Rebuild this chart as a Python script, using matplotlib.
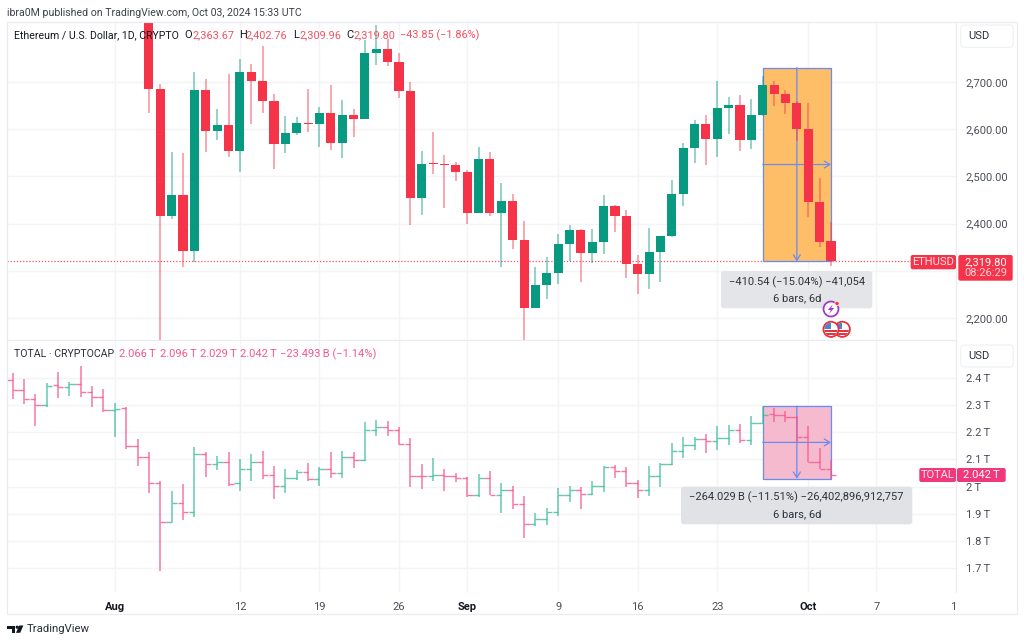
#!/usr/bin/env python3

import numpy as np
import pandas as pd
import matplotlib
matplotlib.use("Agg")
import matplotlib.pyplot as plt
from matplotlib.patches import Rectangle, FancyBboxPatch, Circle, Polygon
from matplotlib.transforms import Bbox

plt.rcParams['font.family'] = ['Roboto', 'DejaVu Sans']

# ETHUSD daily candles, Aug 4 to Oct 3 2024
eth_start = '2024-08-04'
eth_open = [2900, 2685, 2416, 2461, 2341, 2683, 2597, 2609, 2554, 2721, 2701, 2660, 2569, 2592, 2613,
            2610, 2635, 2571, 2629, 2622, 2761, 2769, 2743, 2680, 2455, 2528, 2526, 2524,
            2510, 2423, 2536, 2422, 2447, 2366, 2222, 2270, 2295, 2357, 2386, 2338, 2360, 2437, 2417,
            2314, 2293, 2339, 2374, 2463, 2560, 2610, 2579, 2644, 2651, 2578, 2630, 2693, 2674, 2656,
            2600, 2446, 2363.67]
eth_high = [2925, 2696, 2552, 2550, 2721, 2706, 2643, 2717, 2748, 2738, 2776, 2675, 2628, 2626, 2685,
            2646, 2694, 2661, 2643, 2789, 2821, 2790, 2762, 2699, 2553, 2593, 2545, 2531,
            2514, 2562, 2552, 2485, 2463, 2405, 2308, 2330, 2377, 2397, 2388, 2389, 2461, 2439, 2428,
            2333, 2391, 2374, 2492, 2570, 2619, 2630, 2701, 2668, 2672, 2663, 2713, 2703, 2682, 2660,
            2656, 2497, 2402.76]
eth_low = [2634, 2115, 2410, 2309, 2319, 2552, 2576, 2541, 2510, 2611, 2634, 2516, 2550, 2588, 2594,
           2563, 2556, 2538, 2584, 2621, 2736, 2734, 2667, 2397, 2419, 2505, 2432, 2491,
           2399, 2423, 2416, 2307, 2347, 2150, 2222, 2240, 2272, 2321, 2276, 2316, 2336, 2382, 2285,
           2251, 2261, 2276, 2372, 2437, 2528, 2524, 2540, 2590, 2554, 2557, 2628, 2650, 2633, 2575,
           2413, 2351, 2309.96]
eth_close = [2685, 2416, 2461, 2341, 2683, 2597, 2609, 2554, 2721, 2701, 2660, 2569, 2592, 2613, 2610,
             2635, 2571, 2629, 2622, 2761, 2769, 2743, 2680, 2455, 2526, 2526, 2524, 2510,
             2423, 2536, 2422, 2447, 2366, 2222, 2270, 2295, 2357, 2386, 2338, 2360, 2437, 2417, 2314,
             2293, 2339, 2374, 2463, 2560, 2610, 2579, 2644, 2651, 2578, 2630, 2693, 2674, 2656, 2600,
             2446, 2361, 2319.80]

# TOTAL market cap daily bars in trillions, Jul 23 to Oct 3 2024
total_start = '2024-07-23'
total_open = [2.392, 2.355, 2.322, 2.299, 2.374, 2.367, 2.376, 2.348, 2.328,
              2.280, 2.288, 2.149, 2.108, 2.013, 1.869, 1.941, 1.907, 2.119, 2.083, 2.089,
              2.014, 2.064, 2.089, 2.043, 2.001, 2.030, 2.052, 2.028, 2.064, 2.051, 2.110,
              2.098, 2.208, 2.218, 2.208, 2.156, 2.040, 2.040, 2.044, 2.039,
              2.030, 1.968, 2.033, 1.970, 1.989, 1.935, 1.861, 1.880, 1.905, 1.969, 1.989,
              1.974, 2.003, 2.071, 2.057, 2.014, 1.987, 2.039, 2.084, 2.130, 2.154,
              2.175, 2.166, 2.179, 2.208, 2.170, 2.234, 2.267, 2.262, 2.255,
              2.182, 2.092, 2.066]
total_high = [2.416, 2.394, 2.340, 2.382, 2.421, 2.386, 2.443, 2.370, 2.360,
              2.306, 2.291, 2.174, 2.127, 2.019, 1.983, 2.008, 2.147, 2.127, 2.113, 2.128,
              2.103, 2.119, 2.132, 2.076, 2.064, 2.061, 2.086, 2.071, 2.126, 2.132, 2.128,
              2.236, 2.245, 2.241, 2.220, 2.177, 2.082, 2.104, 2.063, 2.051,
              2.034, 2.045, 2.056, 2.014, 2.001, 1.965, 1.904, 1.922, 1.996, 2.004, 2.000,
              2.022, 2.077, 2.079, 2.071, 2.024, 2.076, 2.085, 2.159, 2.183, 2.183,
              2.193, 2.223, 2.225, 2.230, 2.261, 2.296, 2.288, 2.279, 2.259,
              2.223, 2.141, 2.096]
total_low = [2.322, 2.302, 2.224, 2.294, 2.325, 2.333, 2.328, 2.294, 2.273,
             2.184, 2.137, 2.076, 1.975, 1.690, 1.870, 1.877, 1.889, 2.037, 2.061, 2.002,
             1.984, 2.022, 2.027, 1.956, 1.978, 2.024, 2.019, 2.003, 2.030, 2.031, 2.067,
             2.095, 2.187, 2.187, 2.153, 1.997, 1.992, 2.022, 1.984, 2.018,
             1.960, 1.960, 1.968, 1.904, 1.916, 1.812, 1.854, 1.860, 1.892, 1.944, 1.916,
             1.968, 1.981, 2.033, 1.998, 1.959, 1.967, 1.997, 2.078, 2.106, 2.133,
             2.125, 2.133, 2.152, 2.159, 2.152, 2.233, 2.239, 2.236, 2.161,
             2.091, 2.065, 2.029]
total_close = [2.355, 2.322, 2.299, 2.370, 2.367, 2.376, 2.348, 2.328, 2.280,
               2.285, 2.149, 2.108, 2.013, 1.869, 1.941, 1.907, 2.119, 2.083, 2.089, 2.010,
               2.064, 2.089, 2.043, 2.001, 2.030, 2.054, 2.028, 2.064, 2.051, 2.110, 2.098,
               2.208, 2.218, 2.208, 2.156, 2.040, 2.040, 2.044, 2.039, 2.030,
               1.968, 2.033, 1.970, 1.989, 1.935, 1.861, 1.880, 1.905, 1.969, 1.989, 1.974,
               2.003, 2.071, 2.057, 2.014, 1.987, 2.039, 2.084, 2.130, 2.154, 2.175,
               2.166, 2.179, 2.208, 2.170, 2.234, 2.264, 2.262, 2.255, 2.182,
               2.092, 2.066, 2.042]

eth_ticks = [2200, 2300, 2400, 2500, 2600, 2700]
eth_tick_labels = ['2,200.00', '', '2,400.00', '2,500.00', '2,600.00', '2,700.00']
total_ticks = [1.7, 1.8, 1.9, 2.0, 2.1, 2.2, 2.3, 2.4]
total_tick_labels = ['1.7\u2009T', '1.8\u2009T', '1.9\u2009T', '2\u2009T', '2.1\u2009T', '2.2\u2009T',
                     '2.3\u2009T', '2.4\u2009T']
date_ticks = ['2024-08-01', '2024-08-12', '2024-08-19', '2024-08-26', '2024-09-01', '2024-09-09',
              '2024-09-16', '2024-09-23', '2024-10-01', '2024-10-07', '2024-10-14']
date_labels = ['Aug', '12', '19', '26', 'Sep', '9', '16', '23', 'Oct', '7', '14']

# measure tool ranges
measure_start = '2024-09-27'
measure_end = '2024-10-03'
eth_measure = (2319.80, 2730.34)
total_measure = (2.029, 2.296)

RED = '#F5344A'
GREEN = '#089981'
PINK = '#F4568E'
TEAL = '#3DBB9C'
BLUE = '#6A8CEC'
GRID = '#F3F4F6'
BORDER = '#E9EBEF'
INK = '#131722'
AXIS_INK = '#4A4E59'
FONT = 8.0
W, H = 1024, 641
DAY0 = pd.Timestamp('2024-08-01')


def day_num(stamp):
    return (pd.Timestamp(stamp) - DAY0).days


def panel(top, bottom, y_low, y_high):
    ax = fig.add_axes([6.5 / W, 1 - bottom / H, (956 - 6.5) / W, (bottom - top) / H])
    ax.set_xlim(-9.53, 73.9)
    ax.set_ylim(y_low, y_high)
    ax.set_facecolor('white')
    ax.grid(True, color=GRID, linewidth=1)
    ax.set_axisbelow(True)
    for side in ax.spines:
        ax.spines[side].set_color(BORDER)
        ax.spines[side].set_linewidth(0.8)
    ax.yaxis.tick_right()
    ax.tick_params(axis='both', length=0)
    ax.tick_params(axis='y', pad=7, labelsize=FONT, labelcolor=AXIS_INK)
    ax.set_xticks([day_num(d) for d in date_ticks])
    return ax


def measure_box(ax, y_low, y_high, fill):
    x0, x1 = day_num(measure_start), day_num(measure_end)
    xm, ym = (x0 + x1) / 2, (y_low + y_high) / 2
    ax.add_patch(Rectangle((x0, y_low), x1 - x0, y_high - y_low, facecolor=fill,
                           edgecolor=BLUE, linewidth=0.9, zorder=2))
    arrow = dict(arrowstyle='->,head_length=0.4,head_width=0.25', color=BLUE, lw=0.9,
                 shrinkA=0, shrinkB=0)
    ax.annotate('', xy=(x1, ym), xytext=(x0, ym), arrowprops=arrow, zorder=2.5)
    ax.annotate('', xy=(xm, y_low), xytext=(xm, y_high), arrowprops=arrow, zorder=2.5)


fig = plt.figure(figsize=(W / 100, H / 100), dpi=100, facecolor='white')

# ETHUSD candles
ax_eth = panel(22, 340, 2153.4, 2827)
ax_eth.set_yticks(eth_ticks, eth_tick_labels)
ax_eth.tick_params(axis='x', labelbottom=False)
ax_eth.axhline(eth_close[-1], color='#F7505F', linewidth=0.9, linestyle=(0, (1, 1.5)), zorder=1.5)
measure_box(ax_eth, eth_measure[0], eth_measure[1], '#FEBE68')

eth_x = np.array([day_num(d) for d in pd.date_range(eth_start, periods=len(eth_open))])
eth_o, eth_c = np.array(eth_open), np.array(eth_close)
eth_colors = [GREEN if c > o else RED for o, c in zip(eth_o, eth_c)]
ax_eth.vlines(eth_x, eth_low, eth_high, colors=eth_colors, linewidth=1.1, alpha=0.55, zorder=3)
ax_eth.bar(eth_x, np.maximum(np.abs(eth_c - eth_o), 2.2), bottom=np.minimum(eth_o, eth_c), width=0.8,
           color=eth_colors, edgecolor='none', zorder=4)

# TOTAL bars
ax_total = panel(340, 592, 1.6125, 2.539)
ax_total.set_yticks(total_ticks, total_tick_labels)
ax_total.spines['bottom'].set_visible(False)
measure_box(ax_total, total_measure[0], total_measure[1], '#F6BACF')

total_x = np.array([day_num(d) for d in pd.date_range(total_start, periods=len(total_open))])
total_o, total_c = np.array(total_open), np.array(total_close)
total_colors = [TEAL if c > o else PINK for o, c in zip(total_o, total_c)]
ax_total.vlines(total_x, total_low, total_high, colors=total_colors, linewidth=1.1, alpha=0.8, zorder=3)
ax_total.hlines(total_o, total_x - 0.48, total_x, colors=total_colors, linewidth=1, alpha=0.8, zorder=3)
ax_total.hlines(total_c, total_x, total_x + 0.48, colors=total_colors, linewidth=1, alpha=0.8, zorder=3)

ax_total.set_xticks([day_num(d) for d in date_ticks], date_labels)
ax_total.tick_params(axis='x', pad=7, labelsize=FONT, labelcolor=AXIS_INK)
for lab in ax_total.get_xticklabels():
    if lab.get_text() in ('Aug', 'Sep', 'Oct'):
        lab.set_fontweight('bold')
        lab.set_color(INK)
    # the last date sits on the price scale edge and gets cut off there
    lab.set_clip_box(Bbox([[0, 0], [956, H]]))
    lab.set_clip_on(True)

# page furniture in pixel coordinates
over = fig.add_axes([0, 0, 1, 1], zorder=10)
over.set_xlim(0, W)
over.set_ylim(H, 0)
over.axis('off')
over.patch.set_alpha(0)


def label(x, y, s, size=FONT, color=INK, ha='left', **kw):
    over.text(x, y, s, fontsize=size, color=color, ha=ha, va='center', **kw)


def rounded(x0, y0, x1, y1, fill, edge='none', r=2.5, alpha=1):
    over.add_patch(FancyBboxPatch((x0, y0), x1 - x0, y1 - y0, boxstyle=f'round,pad=0,rounding_size={r}',
                                  facecolor=fill, edgecolor=edge, linewidth=0.8, alpha=alpha))


def flag(cx, cy):
    disc = Circle((cx, cy), 7.6, facecolor='white', edgecolor='#E5333F', linewidth=1.3)
    over.add_patch(disc)
    inner = Circle((cx, cy), 6.6, transform=over.transData)
    for offset in (0.8, 3.8):
        over.add_patch(Rectangle((cx - 8, cy + offset), 16, 1.6, facecolor='#E5333F', clip_path=inner))
    over.add_patch(Rectangle((cx - 7, cy - 7), 7, 6.5, facecolor='#4E84C8', clip_path=inner))


over.add_patch(Rectangle((6.5, 22), 1017 - 6.5, 614 - 22, facecolor='none', edgecolor=BORDER, linewidth=0.8))
label(7, 13, 'ibra0M published on TradingView.com, Oct 03, 2024 15:33 UTC', size=7.6, color='#3C404B')

# legends
label(13.5, 35.5, 'Ethereum / U.S. Dollar, 1D, CRYPTO', size=7.55)
for x, s in [(184.3, 'O'), (239, 'H'), (293.3, 'L'), (346.7, 'C')]:
    label(x, 35.5, s)
for x, s in [(192.3, '2,363.67'), (246, '2,402.76'), (299, '2,309.96'), (353.3, '2,319.80'),
             (400, '\u221243.85 (\u22121.86%)')]:
    label(x, 35.5, s, size=7.8, color='#F5505F')
label(13.5, 354, 'TOTAL \u00b7 CRYPTOCAP', size=7.55, color='#2A2E39')
for x, s in [(119, '2.066\u2009T'), (159.5, '2.096\u2009T'), (200, '2.029\u2009T'), (240, '2.042\u2009T'),
             (280, '\u221223.493\u2009B (\u22121.14%)')]:
    label(x, 354, s, color='#F4568E')

# currency buttons
for y0, y1 in [(25, 47.3), (345, 367)]:
    rounded(960.7, y0, 1013.3, y1, 'white', edge='#EEF0F3', r=4)
    label(968.5, (y0 + y1) / 2, 'USD', color='#2A2E39')

# measure read-outs
rounded(721, 271, 872.3, 308.3, '#E4E5E8', r=3)
label(796.7, 282.5, '\u2212410.54 (\u221215.04%) \u221241,054', color='#2E323C', ha='center')
label(796.7, 298.5, '6 bars, 6d', color='#2E323C', ha='center')
rounded(681, 486.7, 912.3, 524.3, '#E1E2E6', r=3)
label(796.7, 497.5, '\u2212264.029\u2009B (\u221211.51%) \u221226,402,896,912,757', color='#2E323C', ha='center')
label(796.7, 514, '6 bars, 6d', color='#2E323C', ha='center')

# last price tags
rounded(910.7, 255, 956, 269.3, '#F5344A', r=2)
label(933.3, 262.3, 'ETHUSD', color='#FBE3E6', ha='center')
rounded(958.3, 255, 1012.7, 280.7, '#F5344A', r=2)
label(985.5, 262.3, '2,319.80', color='white', ha='center')
label(985.5, 273.5, '08:26:29', color='#FBD3D8', ha='center')
rounded(919.3, 468, 956, 482, '#F0387A', r=2)
label(937.6, 475, 'TOTAL', color='#FCE3EC', ha='center')
rounded(957, 468, 1005.7, 482, '#F0387A', r=2)
label(981.3, 475, '2.042\u2009T', color='white', ha='center')

# event icons under the last bar
over.add_patch(Circle((831, 309), 7.5, facecolor='white', edgecolor='#A23BC8', linewidth=1.3))
over.add_patch(Polygon([(832.8, 304.3), (827.8, 310), (830.8, 310), (829.2, 313.7), (834.2, 308),
                        (831.2, 308)], facecolor='#A23BC8', edgecolor='none'))
over.add_patch(Circle((837, 303.4), 2.2, facecolor='#F5344A', edgecolor='white', linewidth=0.5))
flag(842.3, 329.3)
flag(831, 329.3)

# TradingView mark
over.add_patch(Polygon([(7.3, 625.5), (15.2, 625.5), (15.2, 632.8), (11.6, 632.8), (11.6, 628.6), (7.3, 628.6)],
                       facecolor='#131722', edgecolor='none'))
over.add_patch(Circle((17.2, 627.2), 1.6, facecolor='#131722', edgecolor='none'))
over.add_patch(Polygon([(19.2, 625.5), (23.4, 625.5), (20.2, 632.8), (16, 632.8)], facecolor='#131722',
                       edgecolor='none'))
label(26.7, 629.5, 'TradingView', size=8.2, color='#2A2E39')

fig.savefig('out.png', dpi=100)
